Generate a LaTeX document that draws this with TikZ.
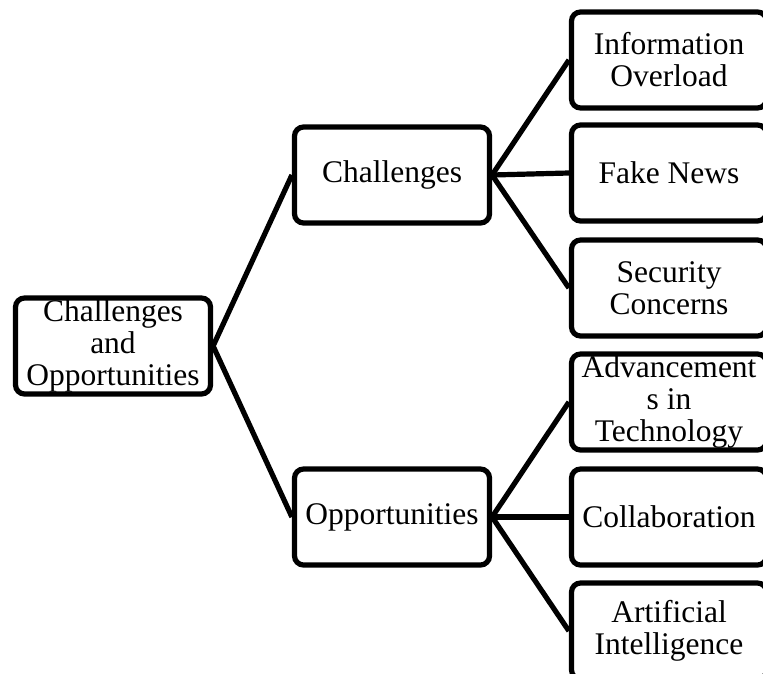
\documentclass[tikz,border=0pt]{standalone}
\usepackage{fontspec}
\setmainfont{Liberation Serif}
\tikzset{box/.style={draw, line width=5.2pt, rounded corners=9pt, minimum width=195pt, minimum height=96pt, inner sep=1pt, align=center, font=\fontsize{31.5}{32}\selectfont}}

\begin{document}
\begin{tikzpicture}[x=1pt,y=-1pt]

\clip (0,0) rectangle (763,674) ;

%root and the two branches
\node [box] (root) at (113,346) {Challenges\\and\\Opportunities} ;
\node [box] (chal) at (392,175) {Challenges} ;
\node [box] (opp) at (392,517) {Opportunities} ;

%leaves
\node [box] (info) at (669,60) {Information\\Overload} ;
\node [box] (fake) at (669,173) {Fake News} ;
\node [box] (secu) at (669,288) {Security\\Concerns} ;
\node [box] (adv) at (669,402) {Advancement\\s in\\Technology} ;
\node [box] (coll) at (669,517) {Collaboration} ;
\node [box] (ai) at (669,631) {Artificial\\Intelligence} ;

\draw [line width=5.2pt] (root.east) to (chal.west) ;
\draw [line width=5.2pt] (root.east) to (opp.west) ;

\draw [line width=5.2pt] (chal.east) to (info.west) ;
\draw [line width=5.2pt] (chal.east) to (fake.west) ;
\draw [line width=5.2pt] (chal.east) to (secu.west) ;

\draw [line width=5.2pt] (opp.east) to (adv.west) ;
\draw [line width=5.2pt] (opp.east) to (coll.west) ;
\draw [line width=5.2pt] (opp.east) to (ai.west) ;

\end{tikzpicture}
\end{document}
